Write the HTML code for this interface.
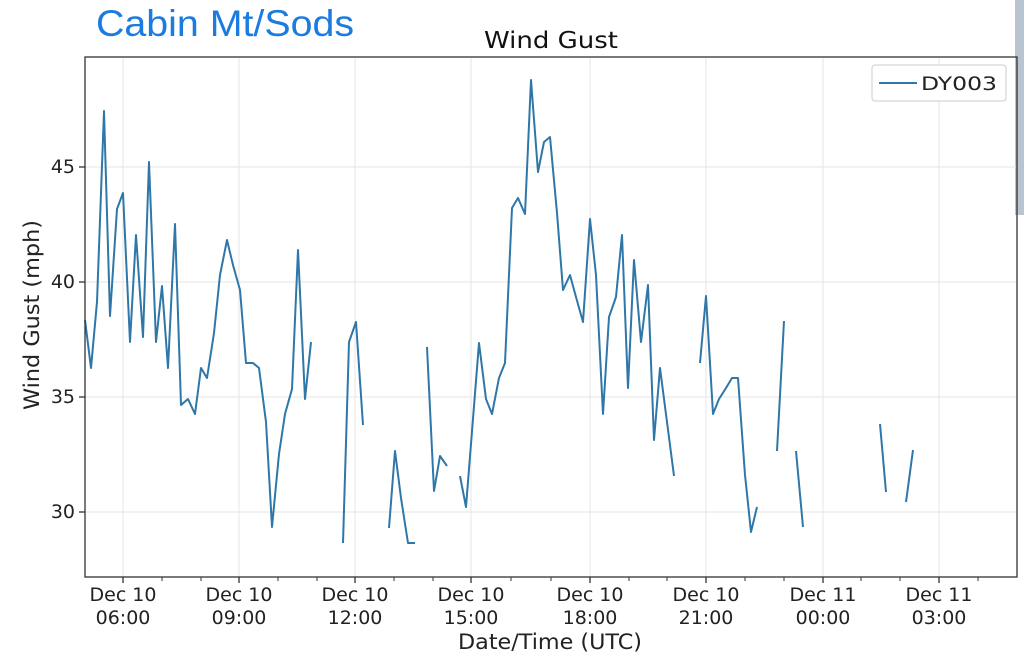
<!DOCTYPE html>
<html><head><meta charset="utf-8"><style>
body{margin:0;background:#fff;width:1024px;height:665px;overflow:hidden;font-family:"DejaVu Sans","Liberation Sans",sans-serif}
</style></head><body>
<svg width="1024" height="665" xmlns="http://www.w3.org/2000/svg" font-family="DejaVu Sans, Liberation Sans, sans-serif">
<rect x="1015" y="0" width="9" height="215" fill="#b8c4d0"/>
<text x="96" y="36" font-size="37" fill="#1a7be0" font-family="Liberation Sans, sans-serif" textLength="258" lengthAdjust="spacingAndGlyphs">Cabin Mt/Sods</text>
<text x="551" y="48" font-size="23" text-anchor="middle" fill="#111" textLength="134" lengthAdjust="spacingAndGlyphs">Wind Gust</text>
<g stroke="#e6e6e6" stroke-width="1">
<line x1="123" y1="57" x2="123" y2="577"/><line x1="239" y1="57" x2="239" y2="577"/><line x1="355" y1="57" x2="355" y2="577"/><line x1="471" y1="57" x2="471" y2="577"/><line x1="590" y1="57" x2="590" y2="577"/><line x1="706" y1="57" x2="706" y2="577"/><line x1="823" y1="57" x2="823" y2="577"/><line x1="939" y1="57" x2="939" y2="577"/>
<line x1="85" y1="512" x2="1017" y2="512"/><line x1="85" y1="397" x2="1017" y2="397"/><line x1="85" y1="282" x2="1017" y2="282"/><line x1="85" y1="167" x2="1017" y2="167"/>
</g>
<g fill="none" stroke="#2e77a8" stroke-width="2" stroke-linejoin="round">
<polyline points="85,320 91,368 97,302 104,111 110,316 117,209 123,193 130,342 136,235 143,337 149,162 156,342 162,286 168,368 175,224 181,405 188,399 195,414 201,368 207,378 214,333 220,275 227,240 233,265 240,290 246,363 253,363 259,368 266,422 272,527 279,454 285,414 292,389 298,250 305,399 311,342"/>
<polyline points="343,543 349,342 356,322 363,425"/>
<polyline points="389,528 395,451 401,498 408,543 415,543"/>
<polyline points="427,347 434,491 440,456 447,466"/>
<polyline points="460,476 466,507 479,343 486,399 492,414 499,378 505,363 512,208 518,198 525,214 531,80 538,172 544,142 550,137 557,213 563,290 570,275 576,297 583,322 590,219 596,275 603,414 609,317 616,297 622,235 628,388 634,260 641,342 648,285 654,440 660,368 674,476"/>
<polyline points="700,363 706,296 713,414 719,399 726,388 732,378 738,378 745,475 751,532 757,507"/>
<polyline points="777,451 784,321"/>
<polyline points="796,451 803,527"/>
<polyline points="880,424 886,492"/>
<polyline points="906,502 913,450"/>
</g>
<rect x="85" y="57" width="932" height="520" fill="none" stroke="#333" stroke-width="1.3"/>
<g stroke="#333" stroke-width="1.3">
<line x1="85" y1="512" x2="79" y2="512"/><line x1="85" y1="397" x2="79" y2="397"/><line x1="85" y1="282" x2="79" y2="282"/><line x1="85" y1="167" x2="79" y2="167"/>
<line x1="123" y1="577" x2="123" y2="583"/><line x1="239" y1="577" x2="239" y2="583"/><line x1="355" y1="577" x2="355" y2="583"/><line x1="471" y1="577" x2="471" y2="583"/><line x1="590" y1="577" x2="590" y2="583"/><line x1="706" y1="577" x2="706" y2="583"/><line x1="823" y1="577" x2="823" y2="583"/><line x1="939" y1="577" x2="939" y2="583"/>
</g>
<g stroke="#333" stroke-width="1">
<line x1="162" y1="577" x2="162" y2="581"/><line x1="201" y1="577" x2="201" y2="581"/><line x1="278" y1="577" x2="278" y2="581"/><line x1="317" y1="577" x2="317" y2="581"/><line x1="394" y1="577" x2="394" y2="581"/><line x1="433" y1="577" x2="433" y2="581"/><line x1="511" y1="577" x2="511" y2="581"/><line x1="551" y1="577" x2="551" y2="581"/><line x1="629" y1="577" x2="629" y2="581"/><line x1="667" y1="577" x2="667" y2="581"/><line x1="745" y1="577" x2="745" y2="581"/><line x1="784" y1="577" x2="784" y2="581"/><line x1="861" y1="577" x2="861" y2="581"/><line x1="900" y1="577" x2="900" y2="581"/><line x1="978" y1="577" x2="978" y2="581"/>
</g>
<g font-size="19" fill="#222" text-anchor="end">
<text x="75" y="518">30</text><text x="75" y="403">35</text><text x="75" y="288">40</text><text x="75" y="173">45</text>
</g>
<g font-size="19" fill="#222" text-anchor="middle">
<text x="123" y="601">Dec 10</text><text x="123" y="624">06:00</text>
<text x="239" y="601">Dec 10</text><text x="239" y="624">09:00</text>
<text x="355" y="601">Dec 10</text><text x="355" y="624">12:00</text>
<text x="471" y="601">Dec 10</text><text x="471" y="624">15:00</text>
<text x="590" y="601">Dec 10</text><text x="590" y="624">18:00</text>
<text x="706" y="601">Dec 10</text><text x="706" y="624">21:00</text>
<text x="823" y="601">Dec 11</text><text x="823" y="624">00:00</text>
<text x="939" y="601">Dec 11</text><text x="939" y="624">03:00</text>
</g>
<text x="550" y="649" font-size="21" fill="#222" text-anchor="middle" textLength="184" lengthAdjust="spacingAndGlyphs">Date/Time (UTC)</text>
<text transform="translate(39,315) rotate(-90)" font-size="21" fill="#222" text-anchor="middle" textLength="190" lengthAdjust="spacingAndGlyphs">Wind Gust (mph)</text>
<rect x="872" y="65" width="134" height="36" rx="3" fill="#fff" stroke="#ccc"/>
<line x1="879" y1="83" x2="917" y2="83" stroke="#2e77a8" stroke-width="2"/>
<text x="921" y="90" font-size="19" fill="#222" textLength="76" lengthAdjust="spacingAndGlyphs">DY003</text>
</svg>
</body></html>
